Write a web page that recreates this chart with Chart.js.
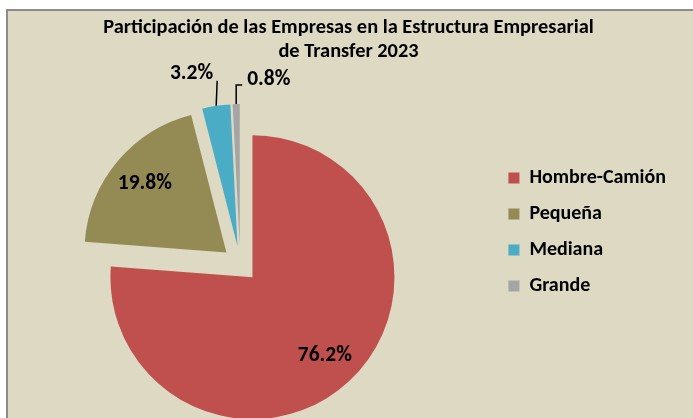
<!DOCTYPE html>
<html lang="es">
<head>
<meta charset="utf-8">
<title>Estructura Empresarial de Transfer 2023</title>
<script src="https://cdn.jsdelivr.net/npm/chart.js@4.4.1/dist/chart.umd.min.js"></script>
<style>
  html, body { margin: 0; padding: 0; background: #fff; overflow: hidden; }
  #marco {
    position: absolute; left: 6px; top: 9px; right: 0; bottom: 0;
    background: #DDD9C3;
    border-top: 2px solid #8C8C8C;
    border-left: 2px solid #8C8C8C;
    overflow: hidden;
  }
  /* el lienzo sobresale del marco por ambos lados; el marco lo recorta */
  canvas { display: block; margin-left: -20px; }
</style>
</head>
<body>
<div id="marco"><canvas id="grafico" width="725" height="407"></canvas></div>
<script>
const titulo = ['Participación de las Empresas en la Estructura Empresarial', 'de Transfer 2023'];
const categorias = ['Hombre-Camión', 'Pequeña', 'Mediana', 'Grande'];
const participacion = [76.2, 19.8, 3.2, 0.8];
const colores = ['#C0504D', '#948A54', '#4BACC6', '#A5A5A5'];

const FUENTE = "Carlito, Lato, 'Liberation Sans', sans-serif";
const SEPARACION = 18; // px que se aparta cada porción del centro

// Aparta cada porción a lo largo de su bisectriz (el 'offset' de Chart.js también agranda las porciones grandes)
const separarPorciones = {
    id: 'separarPorciones',
    afterDatasetsUpdate(chart) {
        chart.getDatasetMeta(0).data.forEach(arc => {
            const medio = (arc.startAngle + arc.endAngle) / 2;
            arc.x += Math.cos(medio) * SEPARACION;
            arc.y += Math.sin(medio) * SEPARACION;
        });
    }
};

// Porcentajes: dentro de las porciones grandes, fuera con línea guía en las pequeñas
const etiquetas = {
    id: 'etiquetas',
    afterDatasetsDraw(chart) {
        const ctx = chart.ctx;
        const arcos = chart.getDatasetMeta(0).data;
        ctx.save();
        ctx.fillStyle = '#000';
        ctx.strokeStyle = '#000';
        ctx.lineWidth = 1.5;
        ctx.font = `bold 21.5px ${FUENTE}`;
        ctx.textBaseline = 'middle';
        arcos.forEach((arc, i) => {
            const texto = participacion[i].toFixed(1) + '%';
            const medio = (arc.startAngle + arc.endAngle) / 2;
            const r = arc.outerRadius;
            if (participacion[i] >= 10) {
                ctx.textAlign = 'center';
                ctx.fillText(texto, arc.x + Math.cos(medio) * r * 0.75, arc.y + Math.sin(medio) * r * 0.75);
                return;
            }
            const bx = arc.x + Math.cos(medio) * r;
            const by = arc.y + Math.sin(medio) * r;
            ctx.beginPath();
            ctx.moveTo(bx, by);
            if (i < arcos.length - 1) {
                ctx.lineTo(bx + 1, by - 25);
                ctx.stroke();
                ctx.textAlign = 'right';
                ctx.fillText(texto, bx - 3, by - 32);
            } else {
                ctx.lineTo(bx, by - 19);
                ctx.lineTo(bx + 6, by - 19);
                ctx.stroke();
                ctx.textAlign = 'left';
                ctx.fillText(texto, bx + 11, by - 24);
            }
        });
        ctx.restore();
    }
};

// Título en dos líneas centrado sobre todo el lienzo
const tituloGrafico = {
    id: 'tituloGrafico',
    afterDraw(chart) {
        const ctx = chart.ctx;
        ctx.save();
        ctx.font = `bold 20.4px ${FUENTE}`;
        ctx.fillStyle = '#000';
        ctx.textAlign = 'center';
        ctx.textBaseline = 'alphabetic';
        titulo.forEach((linea, i) => ctx.fillText(linea, chart.width / 2 - 2, 22 + i * 24));
        ctx.restore();
    }
};

new Chart(document.getElementById('grafico'), {
    type: 'pie',
    data: {
        labels: categorias,
        datasets: [{
            data: participacion,
            backgroundColor: colores,
            borderWidth: 0,
            radius: 142,
            clip: false
        }]
    },
    options: {
        responsive: false,
        animation: false,
        layout: { padding: { top: 141, bottom: 42, left: 0, right: 37 } },
        plugins: {
            title: { display: false },
            tooltip: { enabled: false },
            legend: {
                position: 'right',
                align: 'start',
                labels: {
                    boxWidth: 11,
                    boxHeight: 11,
                    padding: 16,
                    color: '#000',
                    font: { family: FUENTE, size: 20, weight: 'bold' }
                }
            }
        }
    },
    plugins: [separarPorciones, etiquetas, tituloGrafico]
});
</script>
</body>
</html>
